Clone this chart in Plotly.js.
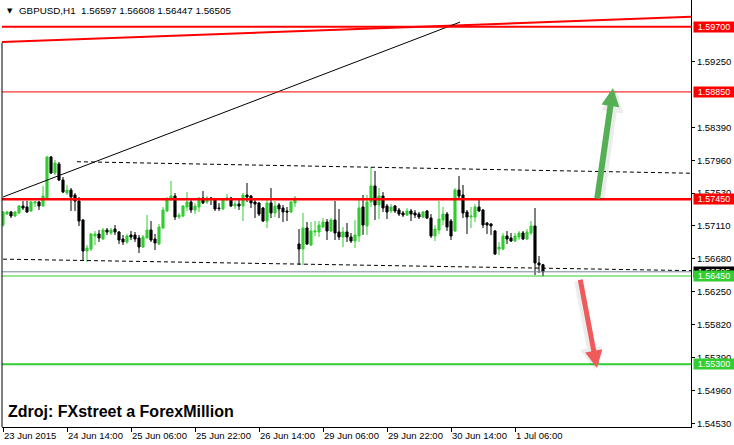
<!DOCTYPE html>
<html>
<head>
<meta charset="utf-8">
<script src="https://cdn.plot.ly/plotly-3.0.1.min.js"></script>
<style>html,body{margin:0;padding:0;background:#fff;}#chart{width:734px;height:445px;}</style>
</head>
<body>
<div id="chart"></div>
<script>
// GBPUSD H1 candles, 23 Jun 2015 22:00 .. 1 Jul 2015 13:00
const opens = [
1.57115,1.57258,1.57285,1.57232,1.57272,1.57363,1.57350,1.57298,1.57402,1.57415,
1.57363,1.57467,1.58002,1.57793,1.57910,1.57702,1.57532,1.57571,1.57506,1.57428,
1.57180,1.56776,1.56802,1.56972,1.56998,1.56933,1.57050,1.57011,1.57063,1.57024,
1.56933,1.56894,1.56985,1.56985,1.56946,1.56828,1.56946,1.57050,1.56933,1.56868,
1.57076,1.57298,1.57441,1.57493,1.57219,1.57232,1.57350,1.57415,1.57311,1.57350,
1.57467,1.57415,1.57467,1.57441,1.57337,1.57324,1.57454,1.57467,1.57363,1.57389,
1.57363,1.57506,1.57493,1.57415,1.57402,1.57337,1.57167,1.57402,1.57272,1.57376,
1.57337,1.57298,1.57285,1.57402,1.56868,1.56802,1.57076,1.56854,1.57024,1.57024,
1.57089,1.57154,1.57037,1.57180,1.57024,1.56959,1.57024,1.56959,1.56907,1.56972,
1.57350,1.57102,1.57415,1.57624,1.57376,1.57493,1.57363,1.57298,1.57363,1.57311,
1.57272,1.57245,1.57298,1.57272,1.57258,1.57219,1.57298,1.57206,1.56972,1.57050,
1.57180,1.57258,1.57167,1.57037,1.57571,1.57506,1.57285,1.57219,1.57219,1.57350,
1.57311,1.57141,1.57128,1.57037,1.56802,1.56802,1.56972,1.56946,1.56907,1.56959,
1.57011,1.56933,1.57011,1.57102,1.56620,1.56597];
const highs = [
1.57298,1.57298,1.57298,1.57298,1.57376,1.57428,1.57428,1.57428,1.57428,1.57428,
1.57624,1.58015,1.58015,1.57962,1.57936,1.57741,1.57637,1.57597,1.57532,1.57480,
1.57193,1.56854,1.57011,1.57037,1.57050,1.57076,1.57076,1.57076,1.57115,1.57037,
1.56985,1.56998,1.57037,1.57024,1.56985,1.56985,1.57245,1.57167,1.56998,1.57128,
1.57350,1.57480,1.57689,1.57532,1.57272,1.57376,1.57545,1.57441,1.57402,1.57480,
1.57558,1.57493,1.57480,1.57467,1.57402,1.57467,1.57519,1.57480,1.57428,1.57441,
1.57532,1.57663,1.57506,1.57441,1.57415,1.57350,1.57467,1.57597,1.57428,1.57402,
1.57376,1.57350,1.57428,1.57493,1.57063,1.57272,1.57154,1.57154,1.57167,1.57167,
1.57206,1.57193,1.57206,1.57428,1.57324,1.57089,1.57141,1.57011,1.57180,1.57441,
1.57506,1.57506,1.57871,1.57819,1.57597,1.57545,1.57389,1.57389,1.57376,1.57337,
1.57298,1.57337,1.57324,1.57311,1.57285,1.57298,1.57311,1.57258,1.57115,1.57428,
1.57350,1.57285,1.57193,1.57597,1.57754,1.57637,1.57311,1.57350,1.57389,1.57441,
1.57324,1.57154,1.57141,1.57050,1.56894,1.57011,1.57037,1.57011,1.57011,1.57037,
1.57037,1.57063,1.57167,1.57337,1.56711,1.56608];
const lows = [
1.57089,1.57245,1.57206,1.57219,1.57258,1.57311,1.57272,1.57285,1.57350,1.57311,
1.57350,1.57454,1.57780,1.57767,1.57689,1.57532,1.57506,1.57298,1.57298,1.57102,
1.56659,1.56633,1.56776,1.56854,1.56894,1.56920,1.56985,1.56985,1.56985,1.56868,
1.56854,1.56868,1.56920,1.56894,1.56750,1.56815,1.56933,1.56894,1.56789,1.56854,
1.57063,1.57285,1.57428,1.57180,1.57193,1.57219,1.57298,1.57272,1.57258,1.57285,
1.57389,1.57389,1.57376,1.57298,1.57298,1.57311,1.57428,1.57350,1.57324,1.57311,
1.57167,1.57415,1.57337,1.57206,1.57232,1.57154,1.57076,1.57206,1.57219,1.57206,
1.57154,1.57167,1.57272,1.57350,1.56594,1.56594,1.56854,1.56841,1.56972,1.56959,
1.57076,1.56920,1.57024,1.56920,1.56920,1.56828,1.56894,1.56881,1.56815,1.56894,
1.56985,1.56985,1.57350,1.57180,1.57193,1.57285,1.57193,1.57272,1.57272,1.57232,
1.57219,1.57232,1.57167,1.57206,1.57193,1.57206,1.57193,1.56946,1.56907,1.56998,
1.57115,1.57037,1.56920,1.57024,1.57467,1.57206,1.56998,1.57076,1.57154,1.57285,
1.57076,1.56998,1.56985,1.56724,1.56724,1.56789,1.56868,1.56894,1.56894,1.56920,
1.56920,1.56920,1.56985,1.56463,1.56490,1.56447];
const closes = [
1.57285,1.57285,1.57232,1.57285,1.57363,1.57337,1.57285,1.57415,1.57415,1.57363,
1.57493,1.58002,1.57793,1.57923,1.57702,1.57545,1.57571,1.57480,1.57428,1.57167,
1.56776,1.56815,1.56998,1.56998,1.56946,1.57050,1.57024,1.57050,1.57024,1.56920,
1.56894,1.56972,1.56959,1.56933,1.56828,1.56959,1.57050,1.56920,1.56881,1.57089,
1.57311,1.57441,1.57493,1.57219,1.57245,1.57363,1.57415,1.57311,1.57363,1.57467,
1.57402,1.57467,1.57454,1.57324,1.57330,1.57441,1.57467,1.57363,1.57389,1.57363,
1.57506,1.57480,1.57402,1.57389,1.57258,1.57167,1.57402,1.57272,1.57363,1.57324,
1.57285,1.57285,1.57415,1.57467,1.56802,1.57076,1.56868,1.57037,1.57037,1.57115,
1.57154,1.57037,1.57180,1.57011,1.56959,1.57024,1.56959,1.56907,1.56985,1.57337,
1.57115,1.57415,1.57624,1.57376,1.57493,1.57337,1.57285,1.57350,1.57298,1.57258,
1.57245,1.57298,1.57258,1.57245,1.57219,1.57285,1.57206,1.56972,1.57063,1.57193,
1.57258,1.57089,1.56972,1.57571,1.57493,1.57272,1.57219,1.57232,1.57350,1.57298,
1.57115,1.57115,1.57102,1.56737,1.56828,1.56972,1.56933,1.56907,1.56972,1.57011,
1.56933,1.57024,1.57102,1.56620,1.56594,1.56505];

// time axis labels (bar index of each label)
const tickIdx  = [0, 16, 32, 48, 64, 80, 96, 112, 128];
const tickText = ['23 Jun 2015','24 Jun 14:00','25 Jun 06:00','25 Jun 22:00','26 Jun 14:00','29 Jun 06:00','29 Jun 22:00','30 Jun 14:00','1 Jul 06:00'];
// price scale labels
const priceTicks = [1.5453, 1.5496, 1.5539, 1.5582, 1.5625, 1.5668, 1.5711, 1.5753, 1.5796, 1.5839, 1.5925];

// horizontal levels
const redLevels   = [1.5970, 1.5885, 1.5745];
const greenLevels = [1.5645, 1.5530];
const bidLevel    = 1.56505;

// drawn trend lines (bar index, price)
const topRedX = [-0.25, 172],  topRedY = [1.5950, 1.5983];
const riseX   = [0, 114.25],   riseY   = [1.5748, 1.5976];
const chanUpX = [18.5, 172],   chanUpY = [1.5794, 1.5779];
const chanLoX = [0, 172],      chanLoY = [1.5667, 1.5652];

// arrows (tail -> tip)
const upArrow   = {x0: 148.5, y0: 1.5744, x1: 152.5, y1: 1.5890};
const downArrow = {x0: 144.25, y0: 1.5642, x1: 148.5, y1: 1.5525};

const idx = opens.map((_, i) => i);
const F = 'Liberation Sans';
const last = opens.length - 1;

const traces = [
  {type:'candlestick', x: idx, open: opens, high: highs, low: lows, close: closes,
   increasing:{line:{color:'#32cd32', width:1}, fillcolor:'#32cd32'},
   decreasing:{line:{color:'#000000', width:1}, fillcolor:'#000000'},
   whiskerwidth:0, hoverinfo:'skip'},
  {type:'scatter', mode:'lines', x: topRedX, y: topRedY, line:{color:'#ff0000', width:2}, hoverinfo:'skip'},
  {type:'scatter', mode:'lines', x: riseX, y: riseY, line:{color:'#000000', width:1}, hoverinfo:'skip'},
  {type:'scatter', mode:'lines', x: chanUpX, y: chanUpY, line:{color:'#000000', width:1, dash:'4px,3px'}, hoverinfo:'skip'},
  {type:'scatter', mode:'lines', x: chanLoX, y: chanLoY, line:{color:'#000000', width:1, dash:'4px,3px'}, hoverinfo:'skip'}
];

const redWidths = [2, 1, 2.5];
const greenWidths = [1, 2];
const shapes = [];
shapes.push({type:'line', xref:'paper', yref:'y', x0:0, x1:1, y0:bidLevel, y1:bidLevel, line:{color:'#778899', width:1}});
redLevels.forEach((v, k) => shapes.push({type:'line', xref:'paper', yref:'y', x0:0, x1:1, y0:v, y1:v, line:{color:'#ff0000', width:redWidths[k]}}));
greenLevels.forEach((v, k) => shapes.push({type:'line', xref:'paper', yref:'y', x0:0, x1:1, y0:v, y1:v, line:{color:'#32cd32', width:greenWidths[k]}}));
shapes.push({type:'line', xref:'paper', yref:'paper', x0:0, x1:0, y0:0, y1:0.9, line:{color:'#000000', width:1}});

function priceLabel(v, bg) {
  return {xref:'paper', x:1, xanchor:'left', xshift:2, yref:'y', y:v, yanchor:'middle',
          text: v.toFixed(5), showarrow:false, bgcolor:bg, width:40, height:10, borderpad:0,
          align:'center', font:{family:F, size:9, color:'#ffffff'}};
}
function arrow(a, color, w, size, dx, dy) {
  return {x:a.x1 + (dx||0), y:a.y1 + (dy||0), ax:a.x0 + (dx||0), ay:a.y0 + (dy||0), xref:'x', yref:'y', axref:'x', ayref:'y',
          text:'', showarrow:true, arrowhead:2, arrowsize:size, arrowwidth:w, arrowcolor:color, standoff:0};
}

const annotations = [
  arrow(upArrow, 'rgba(0,0,0,0.07)', 9, 0.5, 0.6, -0.0002),
  arrow(downArrow, 'rgba(0,0,0,0.07)', 8, 0.55, -0.5, -0.0002),
  arrow(upArrow, '#55b055', 6, 0.6),
  arrow(downArrow, '#f05a5a', 5, 0.7),
  priceLabel(bidLevel, '#000000'),
  ...redLevels.map(v => priceLabel(v, '#ff0000')),
  ...greenLevels.map(v => priceLabel(v, '#32cd32')),
  {xref:'paper', x:0, xanchor:'center', xshift:7.7, yref:'paper', y:1, yanchor:'middle', yshift:-10.5,
   text:'\u25BC', showarrow:false, font:{family:'DejaVu Sans', size:7, color:'#000'}},
  {xref:'paper', x:0, xanchor:'left', xshift:15, yref:'paper', y:1, yanchor:'middle', yshift:-10.7, showarrow:false,
   text:'GBPUSD,H1\u00a0\u00a0' + [opens[last], highs[last], lows[last], closes[last]].map(v => v.toFixed(5)).join(' '),
   font:{family:F, size:9.8, color:'#000'}},
  {xref:'paper', x:0, xanchor:'left', xshift:4, yref:'paper', y:(427-411)/427, yanchor:'middle', showarrow:false,
   text:'<b>Zdroj: FXstreet a ForexMillion</b>', font:{family:F, size:16, color:'#000'}}
];

const layout = {
  width:734, height:445,
  margin:{l:2, r:43, t:0, b:18, pad:0},
  paper_bgcolor:'#ffffff', plot_bgcolor:'#ffffff',
  showlegend:false, dragmode:false, hovermode:false,
  boxgap:0.25,
  xaxis:{range:[-0.25, 172], rangeslider:{visible:false}, showgrid:false, zeroline:false,
         showline:true, linecolor:'#000', linewidth:1, ticks:'outside', ticklen:4, tickcolor:'#000',
         tickmode:'array', tickvals:tickIdx, ticktext:tickText, ticklabelposition:'outside right',
         tickfont:{family:F, size:9.5, color:'#000'}, fixedrange:true},
  yaxis:{range:[1.544818, 1.600482], side:'right', showgrid:false, zeroline:false,
         showline:true, linecolor:'#000', linewidth:1, ticks:'outside', ticklen:3, tickcolor:'#000',
         tickmode:'array', tickvals:priceTicks, ticktext:priceTicks.map(v => v.toFixed(5)),
         tickfont:{family:F, size:9.5, color:'#000'}, fixedrange:true},
  shapes: shapes,
  annotations: annotations
};

Plotly.newPlot('chart', traces, layout, {staticPlot:true, displayModeBar:false});
</script>
</body>
</html>
